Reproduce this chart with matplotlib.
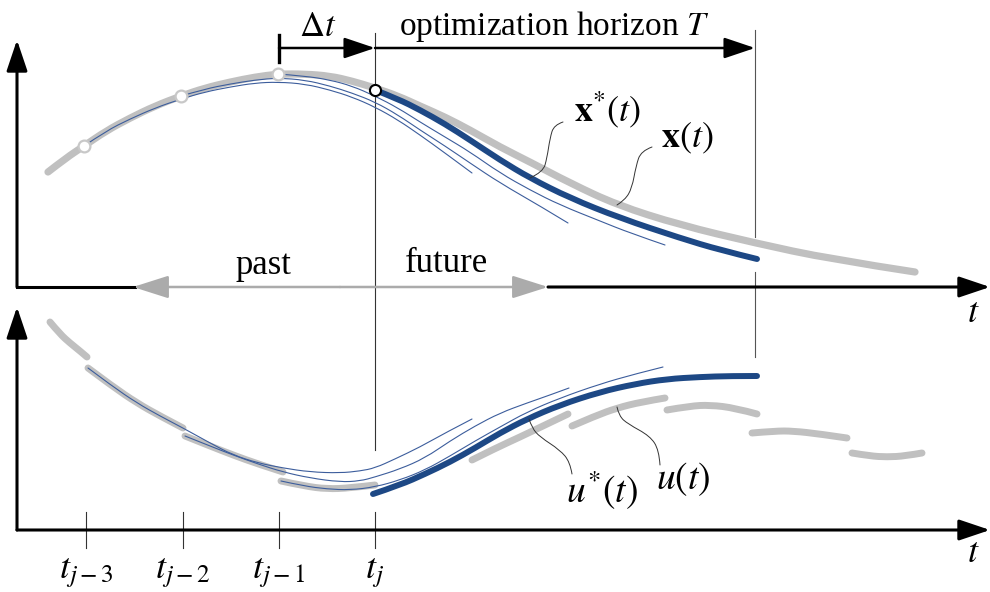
import matplotlib
matplotlib.use('Agg')
import matplotlib.pyplot as plt
from matplotlib.path import Path
from matplotlib.patches import PathPatch

plt.rcParams['mathtext.fontset'] = 'stix'
plt.rcParams['font.family'] = ['Liberation Serif', 'DejaVu Serif']

# ---------------- schematic data (figure pixel units, y grows downward) -------------
step_times = [86, 183, 279, 375]
step_labels = [r'$t_{j-3}$', r'$t_{j-2}$', r'$t_{j-1}$', r'$t_{j}$']
horizon_end = 755

# measured state trajectory x(t)
state_x = [48, 66, 84, 106, 130, 155, 181, 205, 230, 255, 278, 305, 330, 352, 375, 398, 420, 445,
           470, 500, 530, 570, 617, 680, 755, 830, 915]
state_y = [172, 158, 146, 131, 118, 106, 96, 88, 82, 77, 74, 74, 76, 81, 88, 96, 106, 117,
           130, 147, 162, 183, 205, 225, 243, 259, 272]
sample_x = [84, 181, 278]
sample_y = [146, 96, 74]
current_x, current_y = 375, 90

# optimal predicted state x*(t)
opt_state_x = [375, 398, 420, 445, 470, 500, 530, 570, 620, 680, 720, 757]
opt_state_y = [90, 99, 110, 124, 140, 160, 178, 198, 218, 238, 250, 259]

# earlier predictions (thin lines)
pred_state_x = [
    [84, 106, 130, 155, 181, 205, 230, 255, 278, 305, 330, 352, 375, 398, 420, 445, 472],
    [181, 205, 230, 255, 278, 305, 330, 352, 375, 398, 420, 445, 470, 500, 540, 568],
    [278, 305, 330, 352, 375, 398, 420, 445, 470, 500, 530, 560, 600, 630, 665],
]
pred_state_y = [
    [146, 131, 119, 108, 99, 92, 87, 83, 82, 84, 90, 97, 107, 120, 135, 153, 173],
    [96, 89, 84, 80, 78, 80, 86, 93, 102, 115, 130, 146, 163, 183, 206, 223],
    [74, 76, 80, 86, 96, 108, 122, 137, 152, 173, 190, 205, 221, 233, 245],
]

# applied control u(t): piecewise segments
ctrl_seg_x = [
    [50, 60, 70, 80, 87],
    [88, 112, 137, 160, 183],
    [185, 210, 233, 258, 283],
    [281, 304, 327, 350, 375],
    [472, 496, 520, 545, 568],
    [572, 595, 617, 641, 665],
    [667, 690, 710, 735, 757],
    [752, 775, 793, 820, 847],
    [852, 870, 887, 905, 922],
]
ctrl_seg_y = [
    [322, 334, 343, 351, 357],
    [368, 386, 403, 416, 428],
    [436, 446, 455, 464, 472],
    [481, 486, 489, 488, 485],
    [460, 448, 437, 425, 414],
    [426, 416, 408, 402, 398],
    [410, 406, 405, 408, 414],
    [433, 431, 431, 434, 438],
    [453, 456, 457, 456, 453],
]

# optimal control u*(t)
opt_ctrl_x = [373, 400, 425, 450, 475, 500, 527, 560, 600, 635, 667, 700, 730, 757]
opt_ctrl_y = [494, 485, 474, 462, 448, 433, 419, 405, 392, 384, 379, 377, 376, 376]

# earlier control predictions (thin)
pred_ctrl_x = [
    [88, 112, 137, 160, 183, 210, 233, 258, 283, 310, 340, 360, 375, 395, 420, 445, 472],
    [185, 210, 233, 258, 283, 310, 340, 360, 375, 400, 425, 450, 475, 500, 527, 550, 569],
    [281, 304, 327, 350, 375, 400, 425, 450, 475, 500, 527, 560, 600, 635, 663],
]
pred_ctrl_y = [
    [368, 386, 403, 416, 428, 443, 455, 463, 468, 472, 473, 471, 468, 459, 447, 433, 419],
    [436, 446, 455, 464, 472, 478, 482, 481, 477, 469, 458, 441, 426, 413, 403, 395, 388],
    [481, 486, 489, 490, 487, 480, 470, 456, 441, 427, 412, 398, 384, 374, 367],
]

# ---------------- drawing --------------------------------------------------------
GRAY = '#c0c0c0'
BLUE = '#1d4885'
THIN = '#3c5d9c'
AXC = 'black'

fig = plt.figure(figsize=(9.9, 5.92), dpi=100)
ax = fig.add_axes([0, 0, 1, 1])
ax.set_xlim(0, 990)
ax.set_ylim(592, 0)
ax.axis('off')


def smooth(xs, ys, color, lw, z):
    """Draw a smooth curve using the points as quadratic Bezier controls."""
    pts = list(zip(xs, ys))
    verts = [pts[0]]
    codes = [Path.MOVETO]
    for i in range(1, len(pts) - 1):
        mid = ((pts[i][0] + pts[i + 1][0]) / 2, (pts[i][1] + pts[i + 1][1]) / 2)
        if i == len(pts) - 2:
            mid = pts[-1]
        verts += [pts[i], mid]
        codes += [Path.CURVE3, Path.CURVE3]
    if len(pts) == 2:
        verts.append(pts[1])
        codes.append(Path.LINETO)
    patch = PathPatch(Path(verts, codes), facecolor='none', edgecolor=color, lw=lw,
                      capstyle='round', joinstyle='round', zorder=z)
    ax.add_patch(patch)


def arrow(x0, y0, x1, y1, color=AXC, lw=2.2, style='-|>', hl=0.95, hw=0.32, z=5):
    ax.annotate('', xy=(x1, y1), xytext=(x0, y0),
                arrowprops=dict(arrowstyle=f'{style},head_length={hl},head_width={hw}',
                                color=color, lw=lw, shrinkA=0, shrinkB=0,
                                mutation_scale=20), zorder=z)


# guide lines
ax.plot([375, 375], [33, 450], color='#333333', lw=0.8, zorder=1)
ax.plot([horizon_end, horizon_end], [30, 237], color='#555555', lw=0.8, zorder=1)
ax.plot([horizon_end, horizon_end], [272, 357], color='#555555', lw=0.8, zorder=1)

# axes (top)
arrow(17, 287, 17, 40)
ax.plot([17, 135], [287, 287], color=AXC, lw=2.2, zorder=5, solid_capstyle='projecting')
arrow(548, 287, 990, 287)
arrow(340, 287, 133, 287, color='#ababab', lw=1.8, hl=1.1, hw=0.35, z=6)
arrow(340, 287, 548, 287, color='#ababab', lw=1.8, hl=1.1, hw=0.35, z=6)
ax.text(973, 313, r'$t$', fontsize=26, ha='center', va='center')

# axes (bottom)
arrow(17, 530, 17, 307)
arrow(17, 530, 990, 530)
ax.text(973, 553, r'$t$', fontsize=26, ha='center', va='center')
for tx, lab in zip(step_times, step_labels):
    ax.plot([tx, tx], [512, 548], color='#333333', lw=0.8, zorder=4)
    ax.text(tx, 573, lab, fontsize=26, ha='center', va='center')

# time arrows on top
ax.plot([279, 279], [35, 62], color=AXC, lw=2.4)
arrow(279, 48, 375, 48, lw=1.8)
arrow(375, 48, horizon_end, 48, lw=1.8)
ax.text(318, 27, r'$\Delta t$', fontsize=25, ha='center', va='center')
ax.text(554, 27, r'optimization horizon $T$', fontsize=24, ha='center', va='center')
ax.text(263, 266, 'past', fontsize=25, ha='center', va='center')
ax.text(446, 264, 'future', fontsize=25, ha='center', va='center')

# state trajectories
smooth(state_x, state_y, GRAY, 5.2, 2)
for px, py in zip(pred_state_x, pred_state_y):
    smooth(px, py, THIN, 0.8, 3)
smooth(opt_state_x, opt_state_y, BLUE, 4.3, 4)
ax.plot(sample_x, sample_y, 'o', ms=8.5, mfc='white', mec='#c8c8c8', mew=1.6, zorder=6)
ax.plot([current_x], [current_y], 'o', ms=8, mfc='white', mec='black', mew=1.5, zorder=7)

# control trajectories
for sx, sy in zip(ctrl_seg_x, ctrl_seg_y):
    smooth(sx, sy, GRAY, 5.0, 2)
for px, py in zip(pred_ctrl_x, pred_ctrl_y):
    smooth(px, py, THIN, 0.8, 3)
smooth(opt_ctrl_x, opt_ctrl_y, BLUE, 4.3, 4)

# labels with leader lines
smooth([563, 554, 550, 547, 543, 530], [122, 125, 138, 158, 172, 178], '#333333', 0.7, 5)
smooth([652, 641, 636, 632, 625, 617], [147, 151, 166, 188, 200, 205], '#333333', 0.7, 5)
ax.text(608, 110, r'$\mathbf{x}^{*}(t)$', fontsize=26, ha='center', va='center')
ax.text(687, 138, r'$\mathbf{x}(t)$', fontsize=26, ha='center', va='center')

smooth([572, 570, 560, 540, 532, 529], [474, 462, 450, 437, 428, 419], '#333333', 0.7, 5)
smooth([660, 659, 650, 628, 619, 617], [465, 450, 436, 424, 416, 407], '#333333', 0.7, 5)
ax.text(602, 490, r'$u^{*}(t)$', fontsize=27, ha='center', va='center')
ax.text(683, 479, r'$u(t)$', fontsize=27, ha='center', va='center')

fig.savefig('out.png', dpi=100)
